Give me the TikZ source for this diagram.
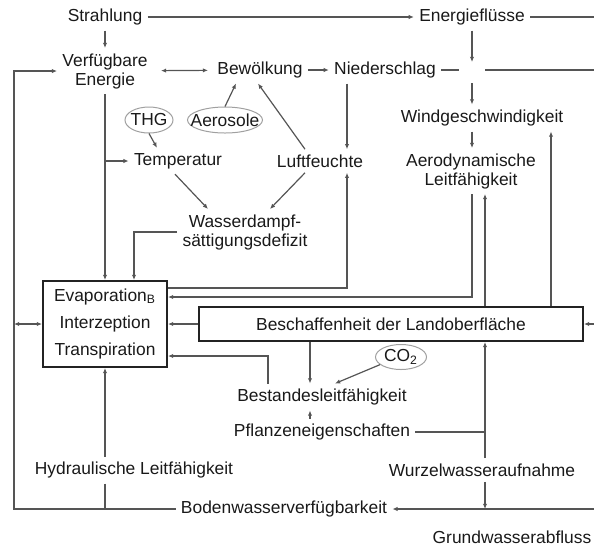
\documentclass[tikz,border=0pt]{standalone}
\usepackage{fontspec}
\setmainfont{Liberation Sans}
\usetikzlibrary{arrows.meta,shapes.geometric,calc}
\definecolor{linie}{RGB}{85,85,85}
\definecolor{rahmen}{RGB}{35,35,35}
\definecolor{ovalrand}{RGB}{160,160,160}
\definecolor{schrift}{RGB}{25,25,25}
\tikzset{
  >={Latex[length=2.6pt,width=2.2pt]},
  txt/.style={text=schrift,inner sep=2.5pt,font=\fontsize{8.7pt}{9.5pt}\selectfont},
  kasten/.style={txt,draw=rahmen,line width=1pt},
  blase/.style={txt,ellipse,draw=ovalrand,line width=0.5pt,inner sep=0pt,minimum height=13pt},
  ln/.style={draw=linie,line width=0.6pt},
  arr/.style={ln,->},
  arrr/.style={ln,<->},
}
\begin{document}
\begin{tikzpicture}[x=0.5pt,y=-0.5pt]
\useasboundingbox (0,0) rectangle (594,548);
% Knoten
\node[txt] (strahlung) at (105,17) {Strahlung};
\node[txt] (energiefl) at (472,17) {Energieflüsse};
\node[txt,align=center] (verfenergie) at (105,71) {Verfügbare\\Energie};
\node[txt] (bewoelkung) at (260,70) {Bewölkung};
\node[txt] (niederschlag) at (385,70) {Niederschlag};
\node[txt] (windgeschw) at (482,118) {Windgeschwindigkeit};
\node[txt,align=center] (aerodyn) at (471,171) {Aerodynamische\\Leitfähigkeit};
\node[blase,minimum width=24pt] (thg) at (149,120) {\makebox[0pt]{THG}};
\node[blase,minimum width=37.5pt] (aerosole) at (225,120) {\makebox[0pt]{Aerosole}};
\node[txt] (temperatur) at (178,161) {Temperatur};
\node[txt] (luftfeuchte) at (320,161) {Luftfeuchte};
\node[txt,align=center] (wasserdampf) at (245,232) {Wasserdampf-\\sättigungsdefizit};
\node[kasten,minimum width=62pt,minimum height=43pt,align=center] (evap) at (105,324)
  {Evaporation\textsubscript{B}\\[4.2pt]Interzeption\\[4.2pt]Transpiration};
\node[kasten,minimum width=192pt,minimum height=17pt] (landober) at (391,324) {Beschaffenheit der Landoberfläche};
\node[blase,minimum width=25.5pt,minimum height=12.5pt] (co2) at (401,357) {\makebox[0pt]{CO\textsubscript{2}}};
\node[txt] (bestand) at (322,397) {Bestandesleitfähigkeit};
\node[txt] (pflanzen) at (322,432) {Pflanzeneigenschaften};
\node[txt] (hydraul) at (134,470) {Hydraulische Leitfähigkeit};
\node[txt] (wurzel) at (482,470) {Wurzelwasseraufnahme};
\node[txt] (boden) at (284,509) {Bodenwasserverfügbarkeit};
\node[txt] (grundwasser) at (512,537) {Grundwasserabfluss};
% Hilfspunkte
\coordinate (kreuz) at (472,70);
\coordinate (links) at (14,0);
\coordinate (rand) at (594,0);
\coordinate (lfx) at (347,0);
\coordinate (bestx) at (310,0);
\coordinate (aerox) at (485,0);
\coordinate (windx) at (551,0);
% oben
\draw[arr] (strahlung) -- (energiefl);
\draw[ln] (energiefl) -- (rand |- energiefl);
\draw[arr] (strahlung) -- (verfenergie);
\draw[arrr,shorten <=4pt,shorten >=2pt] (verfenergie) -- (bewoelkung);
\draw[arr] (bewoelkung) -- (niederschlag);
\draw[ln] (niederschlag) -- ($(kreuz)+(-13,0)$);
\draw[ln] ($(kreuz)+(13,0)$) -- (rand |- kreuz);
\draw[arr,shorten >=4pt] (energiefl) -- (kreuz);
\draw[arr,shorten <=6.5pt] (kreuz) -- (windgeschw.north -| kreuz);
\draw[arr] (windgeschw.south -| kreuz) -- (aerodyn.north -| kreuz);
\draw[arr] (niederschlag.south -| lfx) -- (luftfeuchte.north -| lfx);
\draw[arr] (aerosole.north) -- ($(bewoelkung.south)+(-24,0)$);
\draw[arr] ($(luftfeuchte.north)+(-15,0)$) -- ($(bewoelkung.south)+(-2,0)$);
\draw[arr] (thg.south) -- ($(temperatur.north)+(-21,0)$);
% Mitte
\draw[arr] (verfenergie.south) -- (evap.north);
\draw[arr] (verfenergie.south |- temperatur) -- (temperatur.west);
\draw[arr] ($(temperatur.south)+(-3,0)$) -- ($(wasserdampf.north)+(-37,0)$);
\draw[arr] ($(luftfeuchte.south)+(-15,0)$) -- ($(wasserdampf.north)+(25,0)$);
\draw[arr] (wasserdampf.west) -| ($(evap.north)+(29,0)$);
\draw[arr] ($(evap.north east)+(0,8)$) -| (luftfeuchte.south -| lfx);
\draw[arr] (aerodyn.south -| kreuz) |- ($(evap.north east)+(0,17)$);
\draw[arr] (landober.west) -- (evap.east);
\draw[arrr] (links |- evap) -- (evap.west);
\draw[arr] (landober.north -| aerox) -- (aerodyn.south -| aerox);
\draw[arr] (landober.north -| windx) -- (windgeschw.south -| windx);
\draw[arr] (rand |- landober) -- (landober.east);
% unten
\draw[arr] (landober.south -| bestx) -- (bestand.north -| bestx);
\draw[arr] ($(bestand.north)+(-54,0)$) |- ($(evap.south east)+(0,-12)$);
\draw[arr] (co2.200) -- ($(bestand.north)+(13,0)$);
\draw[arr] (pflanzen.north -| bestx) -- (bestand.south -| bestx);
\draw[ln] (pflanzen.east) -- (pflanzen.east -| aerox);
\draw[arr] (wurzel.north -| aerox) -- (landober.south -| aerox);
\draw[arr] (wurzel.south -| aerox) -- (aerox |- boden);
\draw[arr] (rand |- boden) -- (boden.east);
\draw[arr] (boden.west) -| (links |- verfenergie) -- (verfenergie.west);
\draw[ln] (hydraul.south -| evap) -- (evap |- boden);
\draw[arr] (hydraul.north -| evap) -- (evap.south);
\end{tikzpicture}
\end{document}
